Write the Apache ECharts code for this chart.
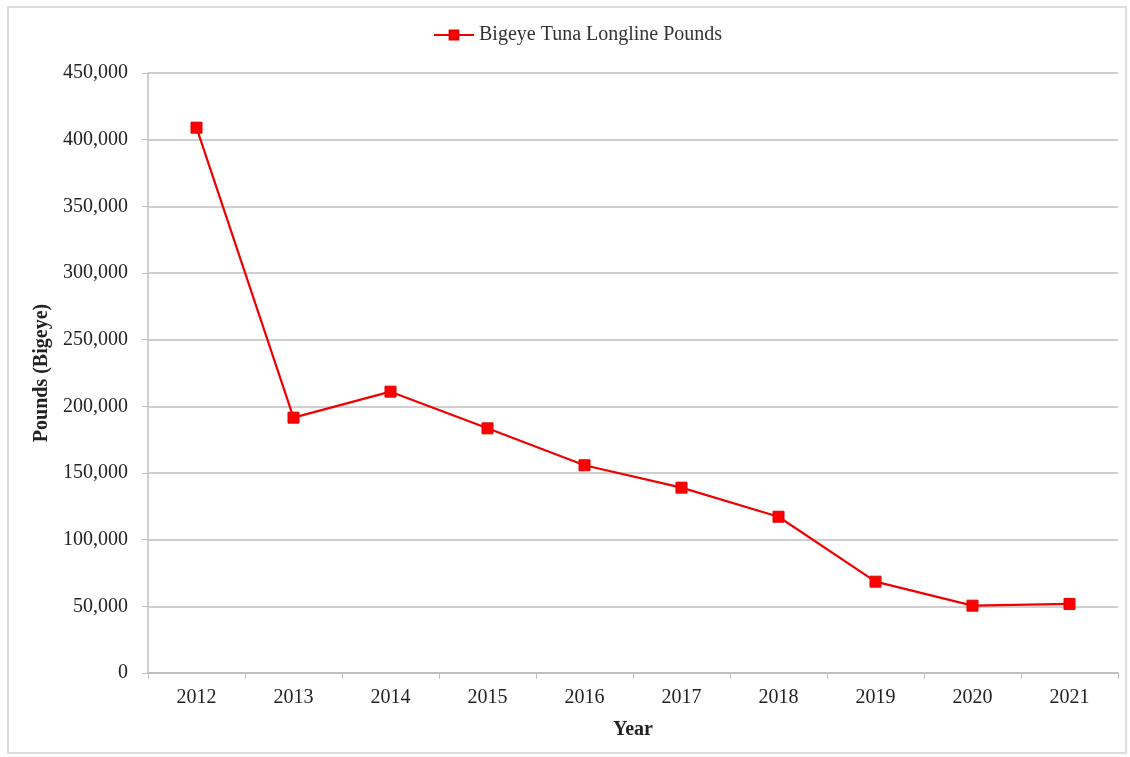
<!DOCTYPE html>
<html><head><meta charset="utf-8">
<script src="https://cdn.jsdelivr.net/npm/echarts@6/dist/echarts.min.js"></script>
<style>html,body{margin:0;padding:0;background:#fff}#c{width:1130px;height:757px}
#frame{position:absolute;left:7px;top:6px;width:1120px;height:748px;border:2px solid #dcdcdc;box-sizing:border-box;pointer-events:none}</style>
</head><body><div id="c"></div><div id="frame"></div>
<script>
const years = ['2012','2013','2014','2015','2016','2017','2018','2019','2020','2021'];
const pounds = [409000, 191500, 211000, 183500, 155800, 139000, 117200, 68500, 50500, 51800];
const seriesName = 'Bigeye Tuna Longline Pounds';
const chart = echarts.init(document.getElementById('c'));
const font = '"Liberation Serif","Times New Roman",serif';
chart.setOption({
  animation:false,
  textStyle:{fontFamily:font},
  legend:{top:20,left:428,itemWidth:40,itemHeight:11,itemGap:4,
    textStyle:{fontFamily:font,fontSize:20,color:'#333'},
    data:[{name:seriesName}]},
  grid:{left:148,right:12,top:73,bottom:84},
  xAxis:{type:'category',data:years,boundaryGap:true,
    name:'Year',nameLocation:'middle',nameGap:47,
    nameTextStyle:{fontFamily:font,fontSize:20,fontWeight:'bold',color:'#222'},
    axisLine:{lineStyle:{color:'#bfbfbf',width:2}},
    axisTick:{show:true,length:6,lineStyle:{color:'#bfbfbf'}},
    axisLabel:{fontFamily:font,fontSize:20,color:'#222',margin:15}},
  yAxis:{type:'value',min:0,max:450000,interval:50000,
    name:'Pounds (Bigeye)',nameLocation:'middle',nameGap:87,
    nameTextStyle:{fontFamily:font,fontSize:20,fontWeight:'bold',color:'#222'},
    axisLine:{show:true,lineStyle:{color:'#bfbfbf',width:1.5}},
    axisTick:{show:true,length:6,lineStyle:{color:'#bfbfbf'}},
    splitLine:{lineStyle:{color:'#bfbfbf',width:1.5}},
    axisLabel:{fontFamily:font,fontSize:20,color:'#222',margin:20,
      formatter:v=>v.toLocaleString('en-US')}},
  series:[{name:seriesName,type:'line',data:pounds,
    symbol:'rect',symbolSize:11,
    lineStyle:{color:'#f00000',width:2.2},
    itemStyle:{color:'#ff0000',borderColor:'#e00000',borderWidth:1}}]
});
</script></body></html>
